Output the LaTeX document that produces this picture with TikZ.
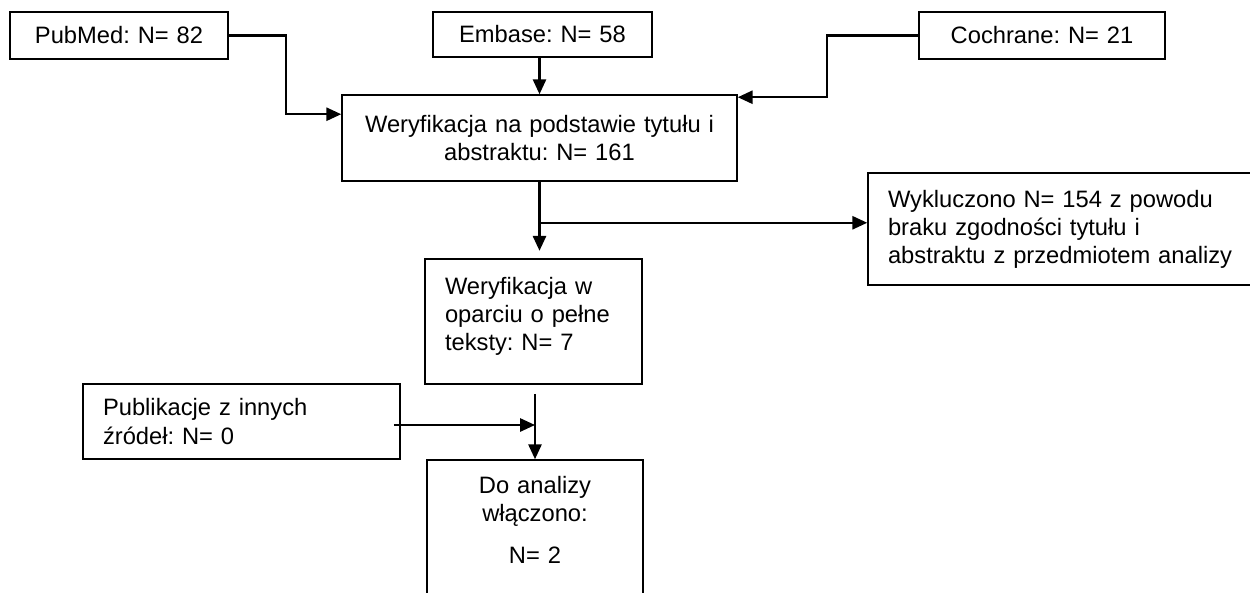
\documentclass[tikz,border=0pt]{standalone}
\usepackage{fontspec}
\setmainfont{Liberation Sans}
\frenchspacing
\usetikzlibrary{arrows.meta}

\begin{document}
\begin{tikzpicture}[
  x=0.02cm, y=-0.02cm,
  box/.style={draw, line width=0.9pt, inner ysep=0pt, inner xsep=0.2cm,
    align=center, font=\fontsize{13.5}{16}\selectfont},
  textbox/.style={box, align=left, inner xsep=0.4cm},
  flow/.style={-{Triangle[length=8.5pt,width=7.5pt]}, line width=1.3pt}
]
  \useasboundingbox (0,0) rectangle (1250,592);

  \node[box, text width=3.96cm, minimum width=4.36cm, minimum height=0.94cm]
    (pubmed) at (119,35.5) {PubMed: N= 82};
  \node[box, text width=3.98cm, minimum width=4.38cm, minimum height=0.9cm]
    (embase) at (542.5,34.5) {Embase: N= 58};
  \node[box, text width=4.52cm, minimum width=4.92cm, minimum height=0.94cm]
    (cochrane) at (1042,35.5) {Cochrane: N= 21};

  \node[box, text width=7.5cm, minimum width=7.9cm, minimum height=1.72cm]
    (title) at (539.5,138) {Weryfikacja na podstawie tytułu i\\abstraktu: N= 161};
  \node[textbox, text width=7.08cm, minimum width=7.88cm, minimum height=2.24cm]
    (excluded) at (1065,229)
    {Wykluczono N= 154 z powodu\\braku zgodności tytułu i\\abstraktu z przedmiotem analizy};

  \node[textbox, text width=3.54cm, minimum width=4.34cm, minimum height=2.5cm]
    (fulltext) at (533.5,321.5) {Weryfikacja w\\oparciu o pełne\\teksty: N= 7\\[-7pt]\mbox{}};
  \node[textbox, text width=5.54cm, minimum width=6.34cm, minimum height=1.5cm]
    (other) at (241.5,421.5) {Publikacje z innych\\źródeł: N= 0};
  \node[box, text width=3.92cm, minimum width=4.32cm, minimum height=2.9cm]
    (included) at (535,532.5) {Do analizy\\włączono:\\[8pt]N= 2\\[-2pt]\mbox{}};

  % sources
  \draw[flow] (pubmed.east) -- ++(57,0) |- ([yshift=-0.4cm]title.north west);
  \draw[flow] (title.north |- embase.south) -- (title.north);
  \draw[flow] (cochrane.west) -- ++(-91,0) |- ([yshift=-0.06cm]title.north east);

  % screening
  \coordinate (split) at ([yshift=-0.82cm]title.south);
  \draw[flow] (title.south) -- ++(0,69);
  \draw[flow] (split) -- (split -| excluded.west);

  % full texts
  \coordinate (gap) at ([yshift=-0.18cm]fulltext.south);
  \coordinate (join) at (included.north |- 0,425);
  \draw[flow] (gap -| included.north) -- (included.north);
  \draw[flow] ([xshift=-0.14cm]other.east |- join) -- (join);
\end{tikzpicture}
\end{document}
